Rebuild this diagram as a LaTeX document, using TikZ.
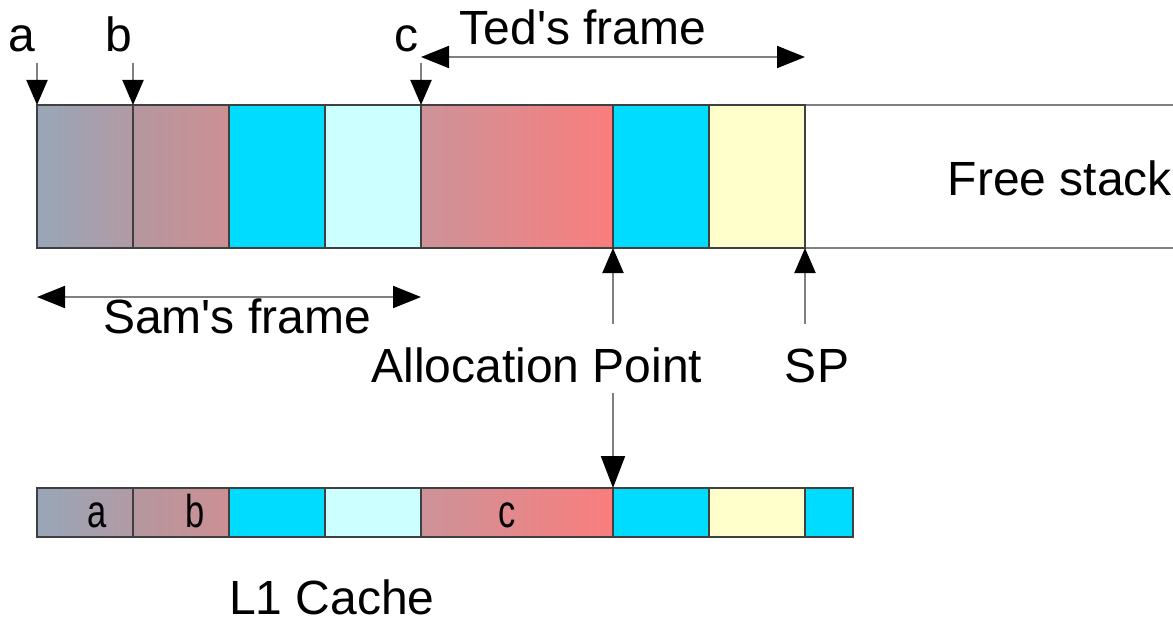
\documentclass[tikz,border=0pt]{standalone}
\usepackage{fontspec}
\setmainfont{Liberation Sans}
\usetikzlibrary{arrows.meta}
\definecolor{cyanA}{HTML}{00DCFF}
\definecolor{cyanB}{HTML}{CCFFFF}
\definecolor{yelA}{HTML}{FFFFCC}
\definecolor{gA}{HTML}{98A6B8}
\definecolor{gB}{HTML}{B29AA4}
\definecolor{gC}{HTML}{B5979F}
\definecolor{gD}{HTML}{CC9094}
\definecolor{gE}{HTML}{CC9399}
\definecolor{gF}{HTML}{FA7D7D}
\definecolor{edge}{HTML}{404040}
\definecolor{arr}{HTML}{808080}
\tikzset{
  cell/.style={draw=edge, line width=1.3pt, minimum width=96pt, minimum height=143pt, inner sep=0pt, outer sep=0pt, anchor=north west},
  lcell/.style={cell, minimum height=49pt},
  lbl/.style={font=\fontsize{48}{56}\selectfont, inner sep=0pt, anchor=base},
  slbl/.style={font=\fontsize{46}{52}\selectfont, inner sep=0pt, anchor=base},
  ptr/.style={draw=arr, line width=2pt, -{Triangle[length=25pt,width=21pt,black]}},
  ptrs/.style={draw=arr, line width=2pt, {Triangle[length=28pt,width=22pt,black]}-{Triangle[length=28pt,width=22pt,black]}},
  ptrb/.style={draw=arr, line width=2pt, -{Triangle[length=32pt,width=24pt,black]}},
}
\begin{document}
\begin{tikzpicture}[x=1pt,y=-1pt]
\useasboundingbox (0,0) rectangle (1173,626);
% top strip
\draw[arr, line width=2pt] (805,105) -- (1173,105);
\draw[arr, line width=2pt] (805,248) -- (1173,248);
\node[cell, left color=gA, right color=gB] (t1) at (37,105) {};
\node[cell, left color=gC, right color=gD] (t2) at (133,105) {};
\node[cell, fill=cyanA] (t3) at (229,105) {};
\node[cell, fill=cyanB] (t4) at (325,105) {};
\node[cell, minimum width=192pt, left color=gE, right color=gF] (t5) at (421,105) {};
\node[cell, fill=cyanA] (t6) at (613,105) {};
\node[cell, fill=yelA] (t7) at (709,105) {};
\node[lbl] (free) at (1060,195) {Free stack};
% pointer labels
\node[lbl] (la) at (22,52) {a};
\node[lbl] (lb) at (119,52) {b};
\node[lbl] (lc) at (406,52) {c};
\coordinate (ca) at (37,63);
\coordinate (cb) at (133,63);
\coordinate (cc) at (421,63);
\draw[ptr] (ca) -- (t1.north west);
\draw[ptr] (cb) -- (t2.north west);
\draw[ptr] (cc) -- (t5.north west);
% Ted's frame
\node[lbl] (ted) at (583,45) {Ted\textquotesingle s frame};
\coordinate (tedL) at (421,57);
\coordinate (tedR) at (805,57);
\draw[ptrs] (tedL) -- (tedR);
% Sam's frame
\node[lbl] (sam) at (237,333) {Sam\textquotesingle s frame};
\coordinate (samL) at (37,297);
\coordinate (samR) at (421,297);
\draw[ptrs] (samL) -- (samR);
% Allocation point and SP
\node[lbl] (alloc) at (537,382) {Allocation Point};
\node[lbl] (sp) at (817,382) {SP};
\coordinate (ap1) at (613,324);
\coordinate (sp1) at (805,324);
\draw[ptr] (ap1) -- (t6.south west);
\draw[ptr] (sp1) -- (t7.south east);
% bottom strip
\node[lcell, left color=gA, right color=gB] (b1) at (37,488) {};
\node[lcell, left color=gC, right color=gD] (b2) at (133,488) {};
\node[lcell, fill=cyanA] (b3) at (229,488) {};
\node[lcell, fill=cyanB] (b4) at (325,488) {};
\node[lcell, minimum width=192pt, left color=gE, right color=gF] (b5) at (421,488) {};
\node[lcell, fill=cyanA] (b6) at (613,488) {};
\node[lcell, fill=yelA] (b7) at (709,488) {};
\node[lcell, minimum width=48pt, fill=cyanA] (b8) at (805,488) {};
\node[slbl] (ba) at (97,527) {\scalebox{0.75}[1]{a}};
\node[slbl] (bb) at (195,527) {\scalebox{0.75}[1]{b}};
\node[slbl] (bc) at (507,527) {\scalebox{0.75}[1]{c}};
\coordinate (ap2) at (613,393);
\draw[ptrb] (ap2) -- (b6.north west);
\node[lbl] (l1) at (332,614) {L1 Cache};
\end{tikzpicture}
\end{document}
